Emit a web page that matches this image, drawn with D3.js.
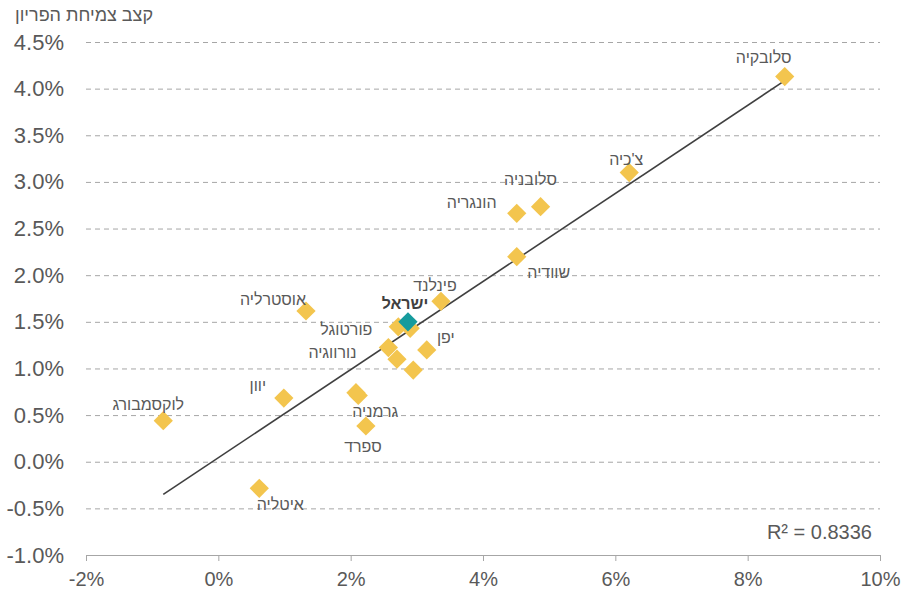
<!DOCTYPE html>
<html>
<head>
<meta charset="utf-8">
<script src="https://cdn.jsdelivr.net/npm/d3@7"></script>
<style>
  body { margin: 0; background: #fff; }
  svg { display: block; font-family: "Liberation Sans", Arial, sans-serif; }
</style>
</head>
<body>
<svg id="chart" width="905" height="595"></svg>
<script>
// data
let countries = ["סלובקיה", "צ'כיה", "סלובניה", "הונגריה", "שוודיה", "פינלנד", "ישראל", "אוסטרליה",
  "פורטוגל", "", "יפן", "נורווגיה", "", "", "יוון", "גרמניה", "", "ספרד", "לוקסמבורג", "איטליה"];
let xVals = [8.56, 6.21, 4.87, 4.51, 4.51, 3.365, 2.866, 1.325,
  2.72, 2.90, 3.15, 2.57, 2.70, 2.946, 0.99, 2.115, 2.08, 2.23, -0.832, 0.619];
let yVals = [4.13, 3.10, 2.734, 2.663, 2.198, 1.72, 1.50, 1.616,
  1.447, 1.43, 1.198, 1.224, 1.10, 0.983, 0.683, 0.71, 0.74, 0.383, 0.44, -0.285];
let highlight = "ישראל";

let xTicks = [-2, 0, 2, 4, 6, 8, 10];
let yTicks = [-1.0, -0.5, 0.0, 0.5, 1.0, 1.5, 2.0, 2.5, 3.0, 3.5, 4.0, 4.5];

// trend line ends as drawn in the picture
let trendX = [-0.832, 8.56];
let trendY = [-0.35, 4.085];
let r2Text = "R² = 0.8336";
let yTitle = "קצב צמיחת הפריון";

// label offsets in px from the point (layout only)
let labelOffset = {
  "סלובקיה": [-21, -14], "צ'כיה": [-3, -8], "סלובניה": [-10, -22], "הונגריה": [-45, -5],
  "שוודיה": [32, 21], "פינלנד": [-6, -10], "ישראל": [-3, -13], "אוסטרליה": [-33, -6],
  "פורטוגל": [-52, 8], "יפן": [19, -7], "נורווגיה": [-56, 10], "יוון": [-26, -7],
  "גרמניה": [17, 21], "ספרד": [-3, 26], "לוקסמבורג": [-15, -11], "איטליה": [21, 22]
};

let svg = d3.select('#chart');
let plotLeft = 86, plotRight = 880, plotTop = 42, plotBottom = 555;

let x = d3.scaleLinear().domain([-2, 10]).range([plotLeft, plotRight]);
let y = d3.scaleLinear().domain([-1, 4.5]).range([plotBottom, plotTop]);

let textColor = '#595959';

// y gridlines + labels
let yAxis = svg.append('g')
  .attr('transform', `translate(${plotLeft},0)`)
  .call(d3.axisLeft(y).tickValues(yTicks).tickFormat(d => d.toFixed(1) + '%')
    .tickSizeInner(-(plotRight - plotLeft)).tickSizeOuter(0).tickPadding(22));
yAxis.select('.domain').remove();
yAxis.selectAll('.tick line')
  .style('stroke', '#a6a6a6')
  .style('stroke-dasharray', '5,4')
  .style('opacity', d => d === -1 ? 0 : 1);
yAxis.selectAll('.tick text')
  .style('font-size', '22px')
  .style('fill', textColor)
  .style('font-family', '"Liberation Sans", Arial, sans-serif');

// x axis
let xAxis = svg.append('g')
  .attr('transform', `translate(0,${plotBottom})`)
  .call(d3.axisBottom(x).tickValues(xTicks).tickFormat(d => d + '%')
    .tickSizeInner(6).tickSizeOuter(0).tickPadding(11));
xAxis.select('.domain').style('stroke', '#a6a6a6');
xAxis.selectAll('.tick line').style('stroke', '#a6a6a6');
xAxis.selectAll('.tick text')
  .style('font-size', '20px')
  .style('fill', textColor)
  .style('font-family', '"Liberation Sans", Arial, sans-serif');

// axis title
svg.append('text')
  .attr('x', 15).attr('y', 21)
  .style('font-size', '18px')
  .style('fill', textColor)
  .text(yTitle);

// trend line
let trend = trendX.map((v, i) => [v, trendY[i]]);
svg.append('path')
  .datum(trend)
  .attr('d', d3.line().x(d => x(d[0])).y(d => y(d[1])))
  .style('fill', 'none')
  .style('stroke', '#404040')
  .style('stroke-width', 1.6);

// points
let points = countries.map((c, i) => ({ name: c, x: xVals[i], y: yVals[i] }));
let ordered = points.filter(d => d.name !== highlight).concat(points.filter(d => d.name === highlight));
let diamond = d3.symbol().type(d3.symbolSquare).size(185);

svg.append('g').selectAll('.pt')
  .data(ordered)
  .join('path')
  .attr('class', 'pt')
  .attr('d', diamond)
  .attr('transform', d => `translate(${x(d.x)},${y(d.y)}) rotate(45)`)
  .style('fill', d => d.name === highlight ? '#169b9d' : '#f3c54e');

// labels
svg.append('g').selectAll('.lbl')
  .data(points.filter(d => d.name !== ''))
  .join('text')
  .attr('class', 'lbl')
  .attr('x', d => x(d.x) + labelOffset[d.name][0])
  .attr('y', d => y(d.y) + labelOffset[d.name][1])
  .attr('text-anchor', 'middle')
  .style('font-size', '16px')
  .style('font-weight', d => d.name === highlight ? 'bold' : 'normal')
  .style('fill', d => d.name === highlight ? '#404040' : textColor)
  .text(d => d.name);

// R squared
svg.append('text')
  .attr('x', 872).attr('y', 539)
  .attr('text-anchor', 'end')
  .style('font-size', '20px')
  .style('fill', textColor)
  .text(r2Text);
</script>
</body>
</html>
